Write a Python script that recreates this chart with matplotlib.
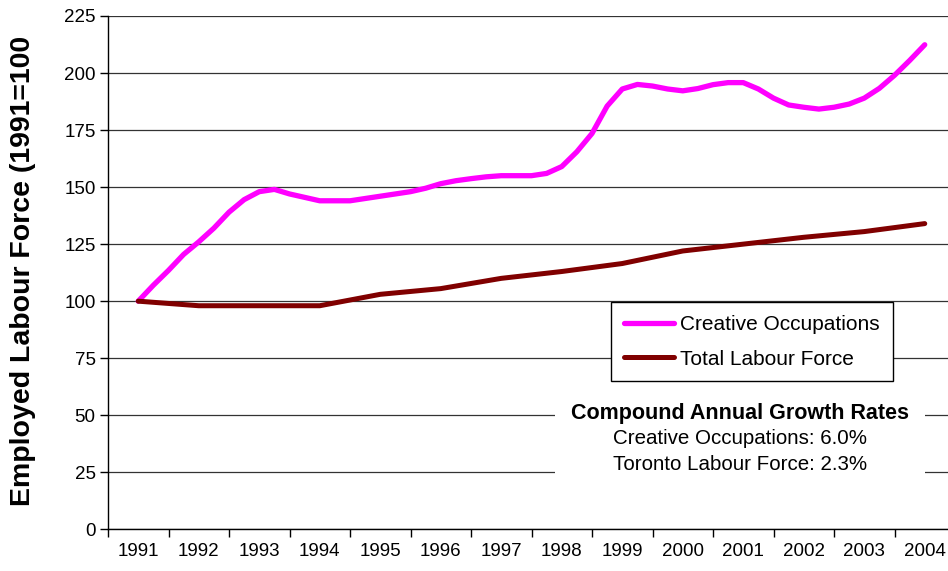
import matplotlib
matplotlib.use("Agg")
import matplotlib.pyplot as plt
from matplotlib.patches import Rectangle

plt.rcParams['font.family'] = ['Liberation Sans', 'DejaVu Sans']

years = [str(y) for y in range(1991, 2005)]
# Creative occupations index, read at quarter-year steps (1991.00, 1991.25, ...)
creative_t = [i * 0.25 for i in range(53)]
creative = [100, 107, 113.5, 120.5, 126, 132, 139, 144.5, 148, 149, 147, 145.5,
            144, 144, 144, 145, 146, 147, 148, 149.5, 151.5, 152.8, 153.7, 154.5,
            155, 155, 155, 156, 159, 165.5, 173.5, 185.5, 193, 195, 194.3, 193,
            192.2, 193.2, 194.9, 195.8, 195.8, 193, 189, 186, 185, 184.2, 185, 186.4,
            189, 193.3, 199, 205.5, 212.4]
# Total labour force index, yearly
total_t = list(range(14))
total = [100, 98, 98, 98, 103, 105.5, 110, 113, 116.5, 122, 125, 128, 130.5, 134]

yticks = [0, 25, 50, 75, 100, 125, 150, 175, 200, 225]

W, H = 948, 571
fig = plt.figure(figsize=(W / 100, H / 100), dpi=100)
left, right, top, bottom = 108, 955, 16, 529.3
ax = fig.add_axes([left / W, 1 - bottom / H, (right - left) / W, (bottom - top) / H])

ax.plot(creative_t, creative, color='#FF00FF', lw=3.8, solid_joinstyle='round',
        solid_capstyle='round', label='Creative Occupations', zorder=3)
ax.plot(total_t, total, color='#800000', lw=3.6, solid_joinstyle='round',
        solid_capstyle='round', label='Total Labour Force', zorder=3)

ax.set_xlim(-0.5, 13.5)
ax.set_ylim(0, 225)
ax.set_yticks(yticks)
ax.set_yticklabels([str(v) for v in yticks], fontsize=13.5)
ax.set_xticks([i - 0.5 for i in range(15)])
ax.set_xticklabels([])
ax.set_xticks(range(14), minor=True)
ax.set_xticklabels(years, minor=True, fontsize=13.5)
ax.tick_params(axis='x', which='major', length=6, width=1, color='black', direction='out')
ax.tick_params(axis='x', which='minor', length=0, pad=10)
ax.tick_params(axis='y', length=6, width=1, direction='out', pad=3)

ax.grid(axis='y', color='#333333', lw=0.9)
ax.set_axisbelow(True)
for s in ['top', 'right']:
    ax.spines[s].set_visible(False)
ax.spines['left'].set_linewidth(1)
ax.spines['bottom'].set_linewidth(1)

leg = ax.legend(loc='upper left', bbox_to_anchor=(611 / W, 1 - 302 / H),
                bbox_transform=fig.transFigure, borderaxespad=0, fontsize=15,
                frameon=True, fancybox=False, edgecolor='black', framealpha=1,
                handlelength=2.4, handletextpad=0.3, labelspacing=0.75, borderpad=0.62)
leg.get_frame().set_linewidth(1)
leg.set_zorder(5)

# white background for growth-rate annotation
ax.add_patch(Rectangle((555 / W, 1 - 482 / H), 370 / W, 82 / H, transform=fig.transFigure,
                       facecolor='white', edgecolor='none', zorder=4))
fig.text(740 / W, 1 - 414 / H, 'Compound Annual Growth Rates', ha='center', va='center',
         fontsize=15.5, fontweight='bold', zorder=6)
fig.text(740 / W, 1 - 439 / H, 'Creative Occupations: 6.0%', ha='center', va='center',
         fontsize=14.8, zorder=6)
fig.text(740 / W, 1 - 465 / H, 'Toronto Labour Force: 2.3%', ha='center', va='center',
         fontsize=14.8, zorder=6)

fig.text(23 / W, 1 - 271 / H, 'Employed Labour Force (1991=100', rotation=90,
         ha='center', va='center', fontsize=20.5, fontweight='bold')

fig.savefig('out.png', dpi=100)
